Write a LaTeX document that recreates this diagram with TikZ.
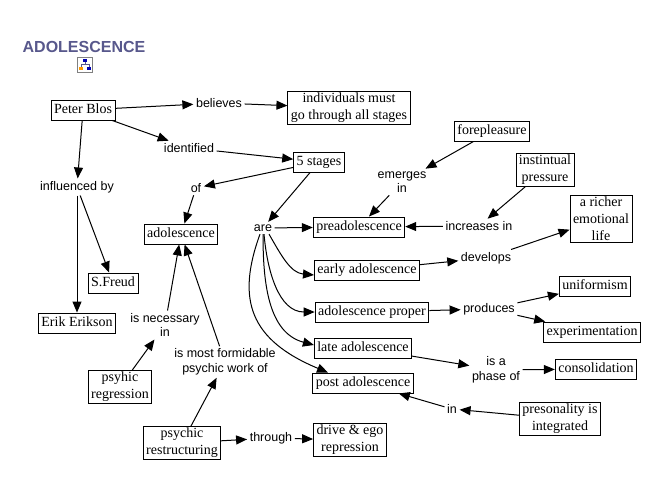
\documentclass[tikz,border=0pt]{standalone}
\usepackage{fontspec}
\setmainfont{Liberation Serif}
\newfontfamily\linkfont{Liberation Sans}
\usetikzlibrary{arrows.meta}
\definecolor{titleblue}{RGB}{88,88,140}

\begin{document}
\begin{tikzpicture}[x=1pt,y=-1pt]
\tikzset{concept/.style={draw,line width=0.9pt,align=center,inner xsep=3pt,inner ysep=1.5pt,font=\fontsize{14}{17}\selectfont}}
\tikzset{phrase/.style={align=center,inner sep=2.5pt,font=\linkfont\fontsize{12.5}{14.5}\selectfont}}
\tikzset{conn/.style={-{Triangle[length=11pt,width=9pt]},line width=1pt}}
\useasboundingbox (0,0) rectangle (663,500);
\fill[white] (0,0) rectangle (663,500);
\node[font=\linkfont\bfseries\fontsize{16}{18}\selectfont,text=titleblue] (title) at (84,47) {ADOLESCENCE};
\node[draw=gray,line width=0.6pt,minimum size=15pt,inner sep=0pt] (icon) at (85,65) {};
\draw[titleblue,line width=0.7pt] (85,61) -- (85,64) (81,64) -- (89,64) (81,64) -- (81,68) (89,64) -- (89,68);
\fill[blue!70!black] (83,59) rectangle (87,62);
\fill[orange!80!yellow] (79,67) rectangle (83,70);
\fill[blue!70!black] (87,67) rectangle (91,70);
\node[concept] (blos) at (83,110) {\strut Peter Blos};
\node[concept] (stagesall) at (349,108) {individuals must\\go through all stages};
\node[concept] (five) at (319,162) {\strut 5 stages};
\node[concept] (adol) at (181,234) {\strut adolescence};
\node[concept] (fore) at (492,131) {\strut forepleasure};
\node[concept] (instinct) at (545,170) {instintual\\pressure};
\node[concept] (richer) at (601,219) {a richer\\emotional\\life};
\node[concept] (pre) at (359,227) {\strut preadolescence};
\node[concept] (early) at (367,270) {\strut early adolescence};
\node[concept] (proper) at (372,312) {\strut adolescence proper};
\node[concept] (late) at (363,348) {\strut late adolescence};
\node[concept] (post) at (363,383) {\strut post adolescence};
\node[concept] (uniform) at (595,286) {\strut uniformism};
\node[concept] (exper) at (592,332) {\strut experimentation};
\node[concept] (consol) at (596,369) {\strut consolidation};
\node[concept] (person) at (560,419) {presonality is\\integrated};
\node[concept] (drive) at (350,440) {drive \& ego\\repression};
\node[concept] (freud) at (113,283) {\strut S.Freud};
\node[concept] (erik) at (77,323) {\strut Erik Erikson};
\node[concept] (regress) at (120,387) {psyhic\\regression};
\node[concept] (restruct) at (182,443) {psychic\\restructuring};
\node[phrase] (believes) at (219,103) {believes};
\node[phrase] (identified) at (189,148) {identified};
\node[phrase] (influenced) at (77,187) {influenced by};
\node[phrase] (of) at (196,188) {of};
\node[phrase] (are) at (263,228) {are};
\node[phrase] (emerges) at (402,182) {emerges\\in};
\node[phrase] (increases) at (479,226) {increases in};
\node[phrase] (develops) at (486,258) {develops};
\node[phrase] (produces) at (489,309) {produces};
\node[phrase] (phase) at (496,370) {is a\\phase of};
\node[phrase] (in) at (452,409) {in};
\node[phrase] (through) at (271,438) {through};
\node[phrase] (necessary) at (165,325) {is necessary\\in};
\node[phrase] (formidable) at (225,362) {is most formidable\\psychic work of};
\draw[conn] (blos) -- (believes);
\draw[conn] (believes) -- (stagesall);
\draw[conn] (blos) -- (identified);
\draw[conn] (identified) -- (five);
\draw[conn] (five) -- (of);
\draw[conn] (of) -- (adol);
\draw[conn] (five) -- (are);
\draw[conn] (are) -- (pre);
\draw[conn] (blos) -- (influenced);
\draw[conn] (influenced) -- (erik);
\draw[conn] (influenced) -- (freud);
\draw[conn] (fore) -- (emerges);
\draw[conn] (emerges) -- (pre);
\draw[conn] (instinct) -- (increases);
\draw[conn] (increases) -- (pre);
\draw[conn] (early) -- (develops);
\draw[conn] (develops) -- (richer);
\draw[conn] (proper) -- (produces);
\draw[conn] (produces) -- (uniform);
\draw[conn] (produces) -- (exper);
\draw[conn] (late) -- (phase);
\draw[conn] (phase) -- (consol);
\draw[conn] (person) -- (in);
\draw[conn] (in) -- (post);
\draw[conn] (regress) -- (necessary);
\draw[conn] (necessary) -- (adol);
\draw[conn] (formidable) -- (adol);
\draw[conn] (restruct) -- (formidable);
\draw[conn] (restruct) -- (through);
\draw[conn] (through) -- (drive);
\draw[conn] ([xshift=6pt]are.south) to[out=-60,in=175] ([yshift=-5pt]early.west);
\draw[conn] ([xshift=1pt]are.south) to[out=-85,in=180] (proper.west);
\draw[conn] ([xshift=0pt]are.south) to[out=-90,in=165] ([yshift=3pt]late.west);
\draw[conn] ([xshift=-3pt]are.south) .. controls (236,300) and (250,340) .. ([xshift=-35pt]post.north);
\end{tikzpicture}
\end{document}
